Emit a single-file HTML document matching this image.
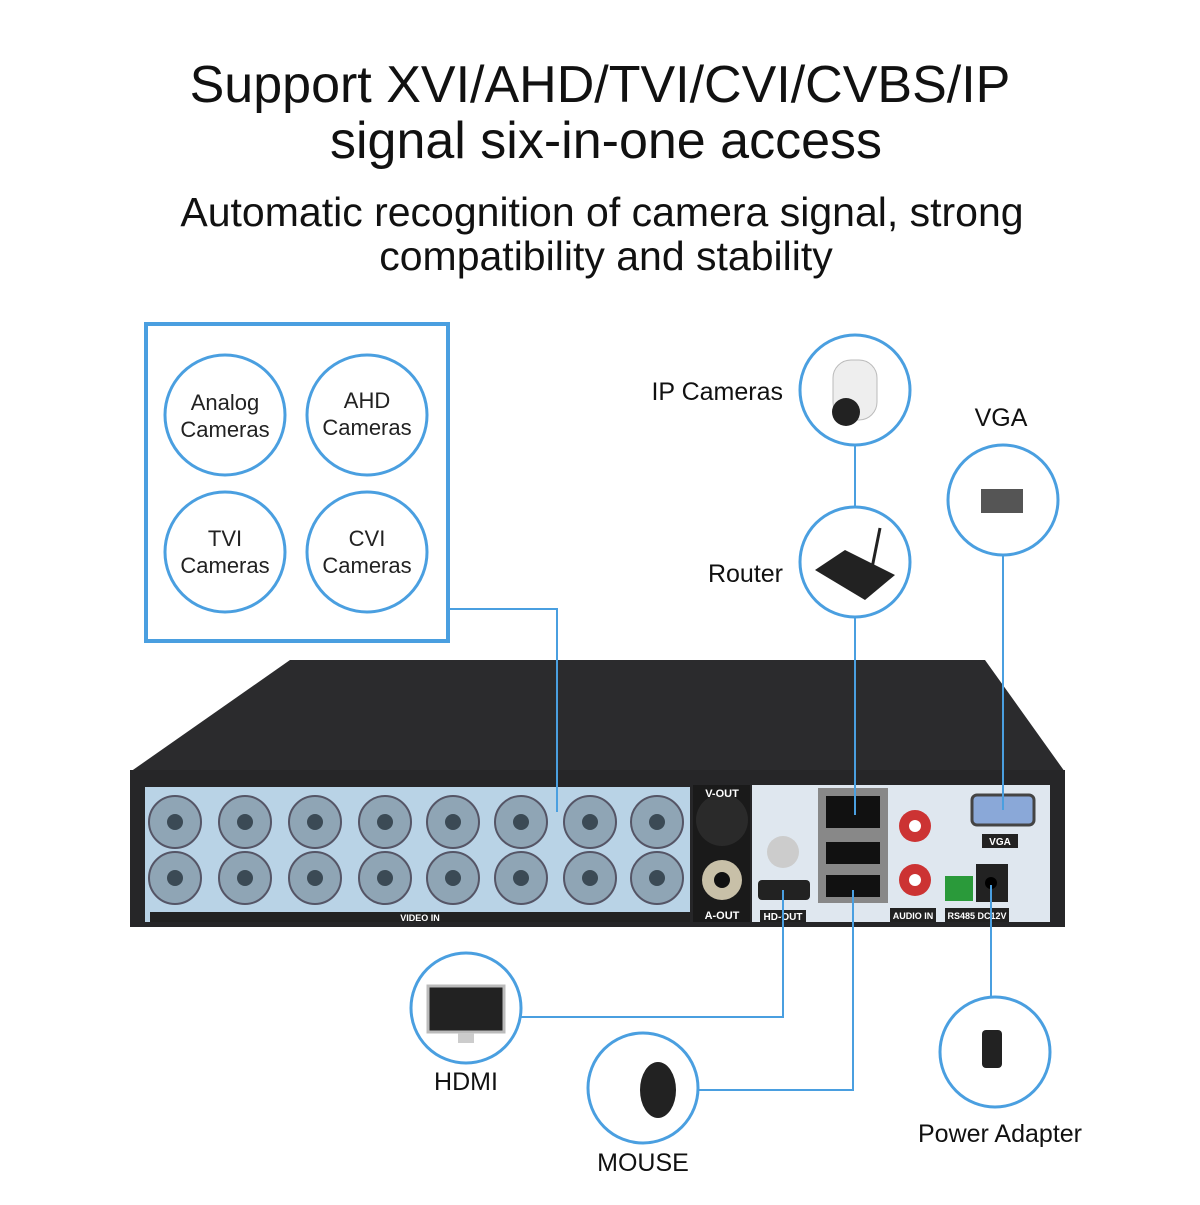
<!DOCTYPE html><html><head><style>
body{margin:0;background:#fff;width:1200px;height:1200px;overflow:hidden;font-family:"Liberation Sans",sans-serif}
</style></head><body>
<svg width="1200" height="1200" xmlns="http://www.w3.org/2000/svg" font-family="Liberation Sans, sans-serif">
<text x="600" y="102" text-anchor="middle" font-size="52" fill="#111">Support XVI/AHD/TVI/CVI/CVBS/IP</text>
<text x="606" y="158" text-anchor="middle" font-size="52" fill="#111">signal six-in-one access</text>
<text x="602" y="226" text-anchor="middle" font-size="41" fill="#111">Automatic recognition of camera signal, strong</text>
<text x="606" y="270" text-anchor="middle" font-size="41" fill="#111">compatibility and stability</text>
<!-- DVR -->
<polygon points="130,772 290,660 985,660 1065,772" fill="#2b2b2d"/>
<rect x="130" y="770" width="935" height="157" fill="#262628"/>
<rect x="145" y="787" width="545" height="135" fill="#b9d3e6"/>
<rect x="693" y="785" width="57" height="137" fill="#1a1a1a"/>
<rect x="752" y="785" width="298" height="137" fill="#dfe7ef"/>
<g fill="#8fa5b5" stroke="#556" stroke-width="2">
<circle cx="175" cy="822" r="26"/><circle cx="245" cy="822" r="26"/><circle cx="315" cy="822" r="26"/><circle cx="385" cy="822" r="26"/><circle cx="453" cy="822" r="26"/><circle cx="521" cy="822" r="26"/><circle cx="590" cy="822" r="26"/><circle cx="657" cy="822" r="26"/>
<circle cx="175" cy="878" r="26"/><circle cx="245" cy="878" r="26"/><circle cx="315" cy="878" r="26"/><circle cx="385" cy="878" r="26"/><circle cx="453" cy="878" r="26"/><circle cx="521" cy="878" r="26"/><circle cx="590" cy="878" r="26"/><circle cx="657" cy="878" r="26"/>
</g>
<g fill="#3b4a55">
<circle cx="175" cy="822" r="8"/><circle cx="245" cy="822" r="8"/><circle cx="315" cy="822" r="8"/><circle cx="385" cy="822" r="8"/><circle cx="453" cy="822" r="8"/><circle cx="521" cy="822" r="8"/><circle cx="590" cy="822" r="8"/><circle cx="657" cy="822" r="8"/>
<circle cx="175" cy="878" r="8"/><circle cx="245" cy="878" r="8"/><circle cx="315" cy="878" r="8"/><circle cx="385" cy="878" r="8"/><circle cx="453" cy="878" r="8"/><circle cx="521" cy="878" r="8"/><circle cx="590" cy="878" r="8"/><circle cx="657" cy="878" r="8"/>
</g>
<rect x="150" y="912" width="540" height="10" fill="#222"/>
<text x="420" y="921" font-size="9" fill="#fff" text-anchor="middle" font-weight="bold">VIDEO IN</text>
<circle cx="722" cy="820" r="26" fill="#2a2a2a"/>
<circle cx="722" cy="880" r="20" fill="#c8c0a8"/><circle cx="722" cy="880" r="8" fill="#111"/>
<text x="722" y="797" font-size="11" fill="#fff" text-anchor="middle" font-weight="bold">V-OUT</text>
<text x="722" y="919" font-size="11" fill="#fff" text-anchor="middle" font-weight="bold">A-OUT</text>
<circle cx="783" cy="852" r="16" fill="#ccc"/>
<rect x="758" y="880" width="52" height="20" rx="4" fill="#222"/>
<rect x="760" y="910" width="46" height="12" fill="#222"/><text x="783" y="920" font-size="10" fill="#fff" text-anchor="middle" font-weight="bold">HD-OUT</text>
<rect x="818" y="788" width="70" height="115" fill="#888"/>
<rect x="826" y="796" width="54" height="32" fill="#111"/>
<rect x="826" y="842" width="54" height="22" fill="#111"/><rect x="826" y="875" width="54" height="22" fill="#111"/>
<circle cx="915" cy="826" r="16" fill="#c33"/><circle cx="915" cy="826" r="6" fill="#fff"/>
<circle cx="915" cy="880" r="16" fill="#c33"/><circle cx="915" cy="880" r="6" fill="#fff"/>
<rect x="890" y="908" width="46" height="14" fill="#222"/><text x="913" y="919" font-size="9" fill="#fff" text-anchor="middle" font-weight="bold">AUDIO IN</text>
<rect x="972" y="795" width="62" height="30" rx="5" fill="#8aa8d8" stroke="#444" stroke-width="3"/>
<rect x="982" y="834" width="36" height="14" fill="#222"/><text x="1000" y="845" font-size="10" fill="#fff" text-anchor="middle" font-weight="bold">VGA</text>
<rect x="945" y="876" width="28" height="25" fill="#2a9a3a"/>
<rect x="976" y="864" width="32" height="38" fill="#222"/><circle cx="991" cy="883" r="6" fill="#000"/>
<rect x="945" y="908" width="64" height="14" fill="#222"/><text x="977" y="919" font-size="9" fill="#fff" text-anchor="middle" font-weight="bold">RS485 DC12V</text>
<g fill="none" stroke="#4a9fe0">
<rect x="146" y="324" width="302" height="317" stroke-width="4"/>
<circle cx="225" cy="415" r="60" stroke-width="3"/><circle cx="367" cy="415" r="60" stroke-width="3"/>
<circle cx="225" cy="552" r="60" stroke-width="3"/><circle cx="367" cy="552" r="60" stroke-width="3"/>
<polyline points="450,609 557,609 557,812" stroke-width="2"/>
<circle cx="855" cy="390" r="55" stroke-width="3"/><circle cx="855" cy="562" r="55" stroke-width="3"/>
<circle cx="1003" cy="500" r="55" stroke-width="3"/><circle cx="466" cy="1008" r="55" stroke-width="3"/>
<circle cx="643" cy="1088" r="55" stroke-width="3"/><circle cx="995" cy="1052" r="55" stroke-width="3"/>
<line x1="855" y1="445" x2="855" y2="507" stroke-width="2"/>
<line x1="855" y1="617" x2="855" y2="815" stroke-width="2"/>
<line x1="1003" y1="555" x2="1003" y2="810" stroke-width="2"/>
<polyline points="521,1017 783,1017 783,890" stroke-width="2"/>
<polyline points="698,1090 853,1090 853,890" stroke-width="2"/>
<line x1="991" y1="997" x2="991" y2="885" stroke-width="2"/>
</g>
<g font-size="22" fill="#222" text-anchor="middle">
<text x="225" y="410">Analog</text><text x="225" y="437">Cameras</text>
<text x="367" y="408">AHD</text><text x="367" y="435">Cameras</text>
<text x="225" y="546">TVI</text><text x="225" y="573">Cameras</text>
<text x="367" y="546">CVI</text><text x="367" y="573">Cameras</text>
</g>
<g font-size="25" fill="#111">
<text x="783" y="400" text-anchor="end">IP Cameras</text>
<text x="783" y="582" text-anchor="end">Router</text>
<text x="1001" y="426" text-anchor="middle">VGA</text>
<text x="466" y="1090" text-anchor="middle">HDMI</text>
<text x="643" y="1171" text-anchor="middle">MOUSE</text>
<text x="1000" y="1142" text-anchor="middle">Power Adapter</text>
</g>
<rect x="833" y="360" width="44" height="60" rx="18" fill="#eee" stroke="#bbb"/><circle cx="846" cy="412" r="14" fill="#222"/>
<polygon points="815,570 865,600 895,575 845,550" fill="#222"/><line x1="870" y1="578" x2="880" y2="528" stroke="#222" stroke-width="3"/>
<rect x="981" y="489" width="42" height="24" fill="#555"/>
<rect x="428" y="986" width="76" height="46" fill="#222" stroke="#bbb" stroke-width="3"/><rect x="458" y="1033" width="16" height="10" fill="#ccc"/>
<ellipse cx="658" cy="1090" rx="18" ry="28" fill="#222"/>
<rect x="982" y="1030" width="20" height="38" rx="4" fill="#222"/>
</svg>
</body></html>
